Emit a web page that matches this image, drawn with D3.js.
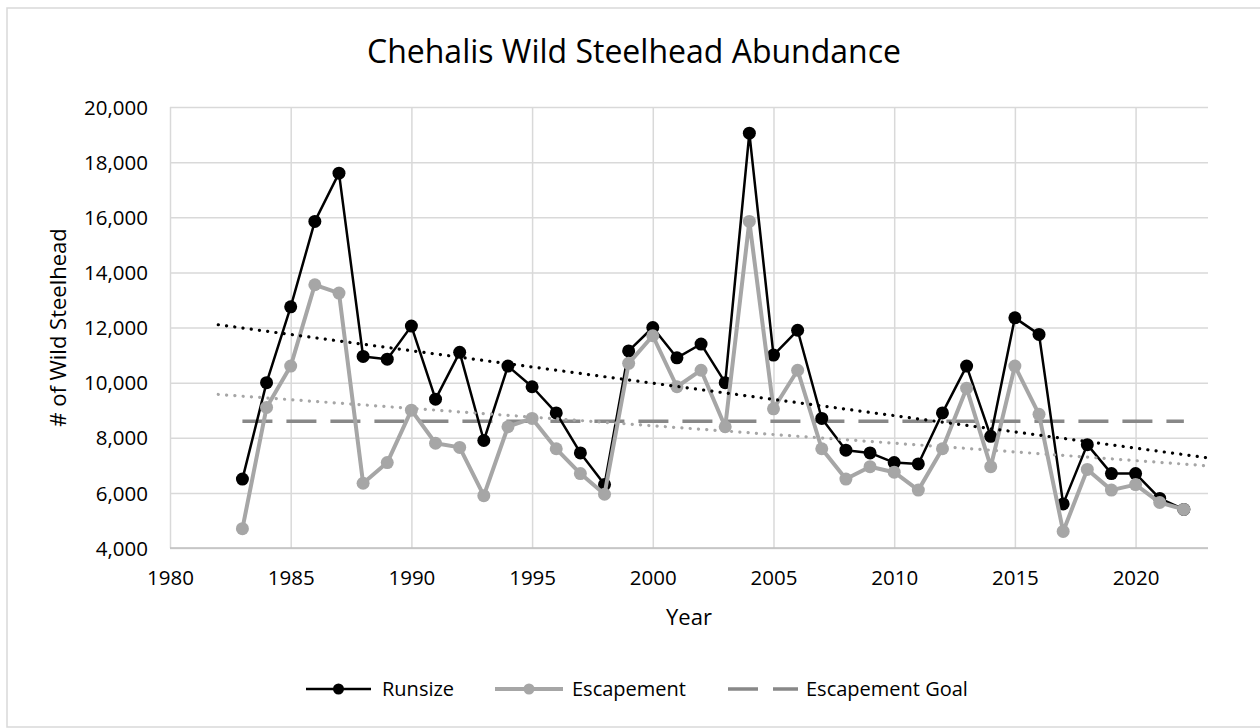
<!DOCTYPE html>
<html>
<head>
<meta charset="utf-8">
<script src="https://cdn.jsdelivr.net/npm/d3@7"></script>
<style>
  body { margin: 0; background: #fff; }
  text { font-family: "Open Sans", "Noto Sans", sans-serif; fill: #000; }
</style>
</head>
<body>
<script>
// data
var years = d3.range(1983, 2023);
var runsize = [6500, 10000, 12750, 15850, 17600, 10950, 10850, 12050, 9400, 11100,
  7900, 10600, 9850, 8900, 7450, 6300, 11150, 12000, 10900, 11400,
  10000, 19050, 11000, 11900, 8700, 7550, 7450, 7100, 7050, 8900,
  10600, 8050, 12350, 11750, 5600, 7750, 6700, 6700, 5800, 5400];
var escapement = [4700, 9100, 10600, 13550, 13250, 6350, 7100, 9000, 7800, 7650,
  5900, 8400, 8700, 7600, 6700, 5950, 10700, 11700, 9850, 10450,
  8400, 15850, 9050, 10450, 7600, 6500, 6950, 6750, 6100, 7600,
  9800, 6950, 10600, 8850, 4600, 6850, 6100, 6300, 5650, 5400];
var escapementGoal = 8600;
// linear trendline ends (Excel trendlines, 1 yr back / 1 yr forward)
var trendYears = [1982, 2023];
var runsizeTrend = [12100, 7270];
var escapementTrend = [9570, 6980];

var xTicks = [1980, 1985, 1990, 1995, 2000, 2005, 2010, 2015, 2020];
var yTicks = [4000, 6000, 8000, 10000, 12000, 14000, 16000, 18000, 20000];

var W = 1260, H = 728;
var plot = { left: 170, right: 1208, top: 107, bottom: 548 };

var svg = d3.select('body').append('svg')
  .attr('width', W)
  .attr('height', H);

// chart border
svg.append('rect')
  .attr('x', 7).attr('y', 8)
  .attr('width', 1262).attr('height', 719)
  .attr('fill', 'none')
  .attr('stroke', '#d9d9d9')
  .attr('stroke-width', 1.5);

var x = d3.scaleLinear().domain([1980, 2023]).range([plot.left, plot.right]);
var y = d3.scaleLinear().domain([4000, 20000]).range([plot.bottom, plot.top]);

// gridlines + tick labels
var yAxis = d3.axisLeft(y).tickValues(yTicks)
  .tickSize(-(plot.right - plot.left)).tickPadding(22)
  .tickFormat(d3.format(','));
var gy = svg.append('g')
  .attr('transform', 'translate(' + plot.left + ',0)')
  .call(yAxis);
gy.select('.domain').remove();
gy.selectAll('line').attr('stroke', '#d9d9d9').attr('stroke-width', 1.5);
gy.selectAll('text').attr('font-size', 20.5).attr('dy', '0.35em');

var xAxis = d3.axisBottom(x).tickValues(xTicks)
  .tickSize(-(plot.bottom - plot.top)).tickPadding(22)
  .tickFormat(d3.format('d'));
var gx = svg.append('g')
  .attr('transform', 'translate(0,' + plot.bottom + ')')
  .call(xAxis);
gx.select('.domain').remove();
gx.selectAll('line').attr('stroke', '#d9d9d9').attr('stroke-width', 1.5);
gx.selectAll('text').attr('font-size', 20.5);

// bottom axis line
svg.append('line')
  .attr('x1', plot.left).attr('x2', plot.right)
  .attr('y1', plot.bottom).attr('y2', plot.bottom)
  .attr('stroke', '#bfbfbf').attr('stroke-width', 1.5);

var line = d3.line()
  .x(function(d) { return x(d[0]); })
  .y(function(d) { return y(d[1]); });

// escapement goal
svg.append('path')
  .datum([[years[0], escapementGoal], [years[years.length - 1], escapementGoal]])
  .attr('d', line)
  .attr('fill', 'none')
  .attr('stroke', '#888888')
  .attr('stroke-width', 3.5)
  .attr('stroke-dasharray', '30 14');

function drawSeries(vals, color, width, r) {
  var pts = years.map(function(yr, i) { return [yr, vals[i]]; });
  svg.append('path')
    .datum(pts)
    .attr('d', line)
    .attr('fill', 'none')
    .attr('stroke', color)
    .attr('stroke-width', width)
    .attr('stroke-linejoin', 'round');
  svg.append('g').selectAll('circle')
    .data(pts)
    .enter().append('circle')
    .attr('cx', function(d) { return x(d[0]); })
    .attr('cy', function(d) { return y(d[1]); })
    .attr('r', r)
    .attr('fill', color);
}

drawSeries(runsize, '#000000', 2.5, 6.5);
drawSeries(escapement, '#a6a6a6', 4, 6.5);

function drawTrend(vals, color) {
  svg.append('path')
    .datum([[trendYears[0], vals[0]], [trendYears[1], vals[1]]])
    .attr('d', line)
    .attr('fill', 'none')
    .attr('stroke', color)
    .attr('stroke-width', 3.2)
    .attr('stroke-linecap', 'round')
    .attr('stroke-dasharray', '0.1 8.2');
}
drawTrend(runsizeTrend, '#000000');
drawTrend(escapementTrend, '#a6a6a6');

// title
svg.append('text')
  .attr('x', 634).attr('y', 63)
  .attr('text-anchor', 'middle')
  .attr('font-size', 32)
  .text('Chehalis Wild Steelhead Abundance');

// axis titles
svg.append('text')
  .attr('x', (plot.left + plot.right) / 2).attr('y', 625)
  .attr('text-anchor', 'middle')
  .attr('font-size', 22)
  .text('Year');

svg.append('text')
  .attr('transform', 'translate(66,' + (plot.top + plot.bottom) / 2 + ') rotate(-90)')
  .attr('text-anchor', 'middle')
  .attr('font-size', 22)
  .text('# of Wild Steelhead');

// legend
var legendY = 689;
var legend = [
  { name: 'Runsize', color: '#000000', width: 2.5, x1: 306, x2: 371, marker: true, tx: 382 },
  { name: 'Escapement', color: '#a6a6a6', width: 4, x1: 495, x2: 563, marker: true, tx: 572 },
  { name: 'Escapement Goal', color: '#888888', width: 3.5, x1: 728, x2: 798, marker: false, tx: 806 }
];
legend.forEach(function(l) {
  var ln = svg.append('line')
    .attr('x1', l.x1).attr('x2', l.x2)
    .attr('y1', legendY).attr('y2', legendY)
    .attr('stroke', l.color)
    .attr('stroke-width', l.width);
  if (l.marker) {
    svg.append('circle')
      .attr('cx', (l.x1 + l.x2) / 2).attr('cy', legendY)
      .attr('r', 5.5).attr('fill', l.color);
  } else {
    ln.attr('stroke-dasharray', '30 15');
  }
  svg.append('text')
    .attr('x', l.tx).attr('y', legendY)
    .attr('dy', '0.35em')
    .attr('font-size', 20)
    .text(l.name);
});
</script>
</body>
</html>
